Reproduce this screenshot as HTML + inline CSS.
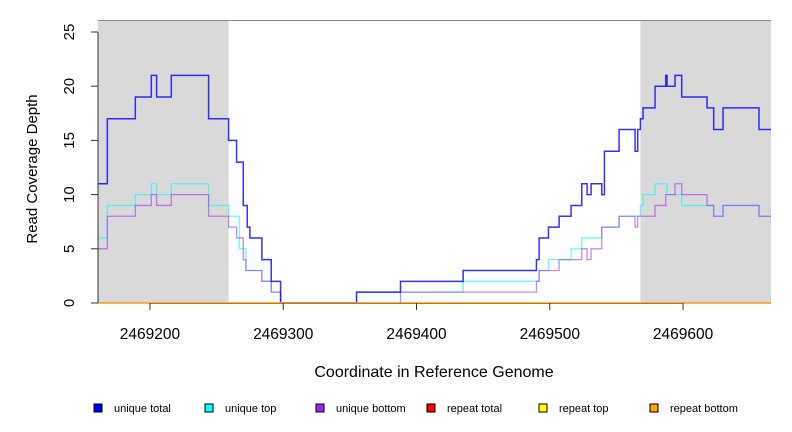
<!DOCTYPE html>
<html><head><meta charset="utf-8"><style>
body{margin:0;background:#fff}
svg{display:block;font-family:"Liberation Sans",sans-serif}
</style></head><body>
<svg id="chart" width="792" height="432" viewBox="0 0 792 432" xmlns="http://www.w3.org/2000/svg"></svg>
<script>
const xTicks=[2469200,2469300,2469400,2469500,2469600];
const yTicks=[0,5,10,15,20,25];
const shadeRegions=[[2469161,2469259],[2469568,2469666]];
const totalX=[2469161,2469168,2469189,2469201,2469205,2469216,2469244,2469259,2469265,2469270,2469273,2469275,2469284,2469291,2469298,2469355,2469388,2469435,2469490,2469492,2469499,2469507,2469516,2469524,2469528,2469531,2469539,2469541,2469552,2469564,2469566,2469568,2469570,2469579,2469587,2469588,2469594,2469599,2469618,2469623,2469630,2469657];
const totalV=[11,17,19,21,19,21,17,15,13,9,7,6,4,2,0,1,2,3,4,6,7,8,9,11,10,11,10,14,16,14,16,17,18,20,21,20,21,19,18,16,18,16];
const topX=[2469161,2469168,2469189,2469201,2469205,2469216,2469244,2469259,2469267,2469272,2469284,2469291,2469298,2469355,2469435,2469490,2469492,2469499,2469516,2469524,2469539,2469552,2469568,2469570,2469579,2469588,2469599,2469623,2469630,2469657];
const topV=[6,9,10,11,10,11,9,8,5,3,2,1,0,1,2,2,3,4,5,6,7,8,9,10,11,10,9,8,9,8];
const botX=[2469161,2469168,2469189,2469201,2469205,2469216,2469244,2469259,2469265,2469270,2469272,2469284,2469291,2469298,2469388,2469490,2469492,2469507,2469524,2469528,2469531,2469539,2469552,2469564,2469566,2469579,2469587,2469594,2469599,2469618,2469623,2469630,2469657];
const botV=[5,8,9,10,9,10,8,7,6,4,3,2,1,0,1,2,3,4,5,4,5,7,8,7,8,9,10,11,10,9,8,9,8];
const xMin=2469161,xMax=2469666,L=98,R=771,Y0=303,pxPerY=10.84;
const sx=v=>L+(v-xMin)/(xMax-xMin)*(R-L);
const sy=v=>Y0-v*pxPerY;
const svg=document.getElementById('chart');
const NS='http://www.w3.org/2000/svg';
function mk(t,a,p){const e=document.createElementNS(NS,t);for(const k in a)e.setAttribute(k,a[k]);(p||svg).appendChild(e);return e;}
shadeRegions.forEach(r=>{
 const e=mk('rect',{x:sx(r[0]),y:20,width:sx(r[1])-sx(r[0]),height:Y0-20,fill:'#d9d9d9'});
 
 
});
const tl=mk('line',{x1:L,x2:R,y1:20.5,y2:20.5,stroke:'#888','stroke-width':1});


const xa=mk('line',{x1:sx(xTicks[0]),x2:sx(xTicks[xTicks.length-1]),y1:Y0+0.5,y2:Y0+0.5,stroke:'#333'});


function step(xs,vs,color,w,op,name){
 let d='M'+sx(xs[0])+','+sy(vs[0]);
 for(let i=1;i<xs.length;i++){d+=' H'+sx(xs[i])+' V'+sy(vs[i]);}
 d+=' H'+R;
 const e=mk('path',{d:d,fill:'none',stroke:color,'stroke-width':w,'stroke-opacity':op});
 
 
}
step(topX,topV,'#00ffff',1.3,0.6,'unique-top-line');
step(botX,botV,'#a020f0',1.3,0.55,'unique-bottom-line');
step(totalX,totalV,'#0000ff',1.5,0.8,'unique-total-line');
[['#ff0000','repeat-total-line'],['#ffff00','repeat-top-line'],['#ff8c00','repeat-bottom-line']].forEach(c=>{
 const e=mk('line',{x1:L,x2:R,y1:Y0,y2:Y0,stroke:c[0],'stroke-width':1.3,'stroke-opacity':0.7});
 
 
});
const ya=mk('line',{x1:L,x2:L,y1:sy(yTicks[0]),y2:sy(yTicks[yTicks.length-1]),stroke:'#333'});


yTicks.forEach(v=>{
 mk('line',{x1:L-7,x2:L,y1:sy(v),y2:sy(v),stroke:'#333'});
 const t=mk('text',{x:0,y:0,'font-size':15,'text-anchor':'middle',transform:`translate(74,${sy(v)}) rotate(-90)`});
 t.textContent=v;
 
 
});
xTicks.forEach(v=>{
 mk('line',{x1:sx(v),x2:sx(v),y1:Y0,y2:Y0+7,stroke:'#333'});
 const t=mk('text',{x:sx(v),y:339,'font-size':15.5,'text-anchor':'middle'});
 t.textContent=v;
 
 
});
</script>
<svg style="position:absolute;left:0;top:0" width="792" height="432">
<text x="434" y="377" font-size="16" text-anchor="middle" font-family="Liberation Sans,sans-serif">Coordinate in Reference Genome</text>
<text transform="translate(37,169) rotate(-90)" font-size="15" text-anchor="middle" font-family="Liberation Sans,sans-serif">Read Coverage Depth</text>
<g font-size="11" font-family="Liberation Sans,sans-serif">
<rect x="94" y="404" width="8" height="8" fill="#0000ff" stroke="#000"/><text x="114" y="412">unique total</text>
<rect x="205" y="404" width="8" height="8" fill="#00ffff" stroke="#000"/><text x="225" y="412">unique top</text>
<rect x="316" y="404" width="8" height="8" fill="#a020f0" stroke="#000"/><text x="336" y="412">unique bottom</text>
<rect x="427" y="404" width="8" height="8" fill="#ff0000" stroke="#000"/><text x="447" y="412">repeat total</text>
<rect x="539" y="404" width="8" height="8" fill="#ffff00" stroke="#000"/><text x="559" y="412">repeat top</text>
<rect x="650" y="404" width="8" height="8" fill="#ffa500" stroke="#000"/><text x="670" y="412">repeat bottom</text>
</g>
</svg>
</body></html>
